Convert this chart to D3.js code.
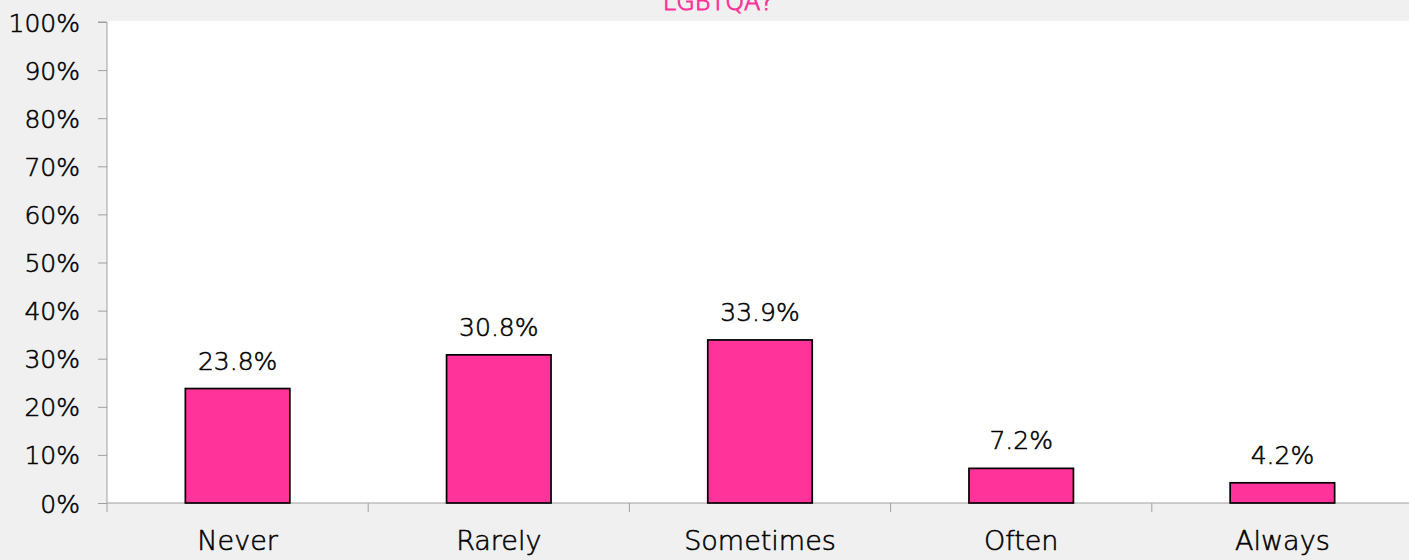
<!DOCTYPE html>
<html><head><meta charset="utf-8">
<script src="https://cdn.jsdelivr.net/npm/d3@7"></script>
<style>
html,body{margin:0;padding:0;background:#f0f0f0;}
svg{display:block;}
text{font-family:"DejaVu Sans","Lato",sans-serif;font-weight:200;}
.t{fill:#000;stroke:#000;stroke-width:0.55px;}
</style></head>
<body>
<svg id="c" width="1409" height="560"></svg>
<script>
const categories = ["Never","Rarely","Sometimes","Often","Always"];
const values = [23.8, 30.8, 33.9, 7.2, 4.2];
const yTicks = [0,10,20,30,40,50,60,70,80,90,100];
const titleText = "LGBTQA?";

const svg = d3.select("#c");
const W = 1409, H = 560;
const m = {left:107, right:-4, top:22, bottom:57};
const x = d3.scaleBand().domain(categories).range([m.left, W - m.right]).paddingInner(0.6).paddingOuter(0.3);
const xb = d3.scaleBand().domain(categories).range([m.left, W - m.right]);
const y = d3.scaleLinear().domain([0,100]).range([H - m.bottom, m.top]);

svg.append("rect").attr("x",0).attr("y",0).attr("width",W).attr("height",H).attr("fill","#f0f0f0");
svg.append("rect").attr("x",m.left).attr("y",y(100)-1).attr("width",W-m.left).attr("height",y(0)-y(100)+1).attr("fill","#ffffff");

svg.append("text").attr("x",718).attr("y",9.5).attr("text-anchor","middle")
  .attr("fill","#ff3399").attr("stroke","#ff3399").attr("stroke-width",1)
  .attr("font-size",24).text(titleText);

// y axis
const ya = svg.append("g").attr("transform",`translate(${m.left},0)`)
  .call(d3.axisLeft(y).tickValues(yTicks).tickFormat(d=>d+"%").tickSize(9).tickPadding(18));
ya.select(".domain").attr("stroke","#a0a0a0").attr("d",`M-9,${y(100)}H0V${y(0)}`);
ya.selectAll(".tick line").attr("stroke","#a0a0a0");
ya.selectAll(".tick text").attr("class","t").attr("font-size",25).attr("dy","0.36em");

// x axis
const xa = svg.append("g").attr("transform",`translate(0,${y(0)})`);
xa.append("line").attr("x1",m.left).attr("x2",W).attr("y1",0).attr("y2",0).attr("stroke","#a0a0a0");
const bounds = categories.map(c=>xb(c)).concat([xb(categories[categories.length-1])+xb.bandwidth()]);
xa.selectAll(".xt").data(bounds).join("line").attr("class","xt")
  .attr("x1",d=>d).attr("x2",d=>d).attr("y1",0).attr("y2",9).attr("stroke","#a0a0a0");
xa.selectAll(".xl").data(categories).join("text").attr("class","xl t")
  .attr("x",d=>xb(d)+xb.bandwidth()/2).attr("y",47).attr("text-anchor","middle")
  .attr("font-size",27).text(d=>d);

// bars
svg.selectAll(".bar").data(categories).join("rect").attr("class","bar")
  .attr("x",d=>x(d)).attr("width",x.bandwidth())
  .attr("y",(d,i)=>y(values[i])).attr("height",(d,i)=>y(0)-y(values[i]))
  .attr("fill","#ff3399").attr("stroke","#000").attr("stroke-width",1.7);

svg.selectAll(".lbl").data(categories).join("text").attr("class","lbl t")
  .attr("x",d=>x(d)+x.bandwidth()/2).attr("y",(d,i)=>y(values[i])-19)
  .attr("text-anchor","middle").attr("font-size",25)
  .text((d,i)=>values[i].toFixed(1)+"%");
</script>
</body></html>
